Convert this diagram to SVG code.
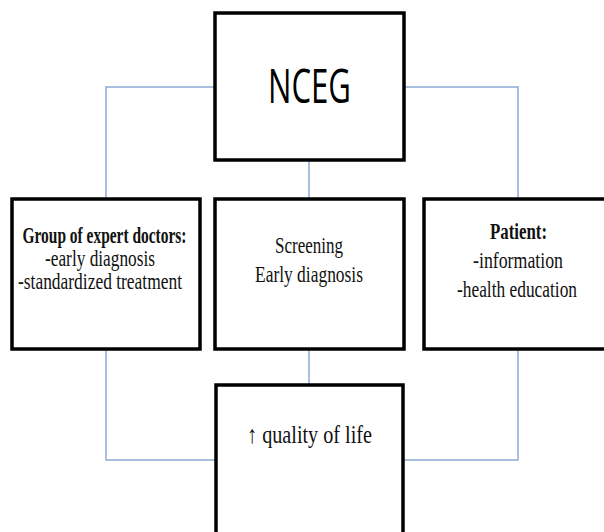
<svg xmlns="http://www.w3.org/2000/svg" width="604" height="532" viewBox="0 0 604 532">
<style>
.box{fill:#ffffff;stroke:#000000;stroke-width:3.5}
.con{fill:none;stroke:#8eaad6;stroke-width:1.5}
.t{font-family:"Liberation Serif","Times New Roman",serif;fill:#111;text-anchor:middle}
.b{font-weight:bold}
.big{font-family:"Open Sans","Noto Sans",sans-serif;fill:#000;text-anchor:middle;font-size:47px}
</style>
<rect width="604" height="532" fill="#ffffff"/>
<g id="connectors">
<polyline class="con" points="215,87 106,87 106,199"/>
<polyline class="con" points="404,87 518,87 518,199"/>
<line class="con" x1="309" y1="160" x2="309" y2="199"/>
<polyline class="con" points="106,349 106,460 216,460"/>
<polyline class="con" points="518,349 518,460 403,460"/>
<line class="con" x1="309" y1="349" x2="309" y2="385"/>
</g>
<g id="nceg">
<rect class="box" x="215" y="13" width="189" height="147"/>
<text class="big" x="309.5" y="103" textLength="83" lengthAdjust="spacingAndGlyphs">NCEG</text>
</g>
<g id="doctors">
<rect class="box" x="12" y="199" width="188" height="150"/>
<text class="t b" x="104.5" y="243" font-size="23" textLength="164" lengthAdjust="spacingAndGlyphs">Group of expert doctors:</text>
<text class="t" x="100" y="266" font-size="23" textLength="110" lengthAdjust="spacingAndGlyphs">-early diagnosis</text>
<text class="t" x="100" y="289" font-size="23" textLength="164" lengthAdjust="spacingAndGlyphs">-standardized treatment</text>
</g>
<g id="screening">
<rect class="box" x="215" y="199" width="189" height="150"/>
<text class="t" x="309" y="253" font-size="24" textLength="68" lengthAdjust="spacingAndGlyphs">Screening</text>
<text class="t" x="309" y="282" font-size="24" textLength="108" lengthAdjust="spacingAndGlyphs">Early diagnosis</text>
</g>
<g id="patient">
<rect class="box" x="424" y="199" width="190" height="150"/>
<text class="t b" x="518.5" y="239" font-size="24" textLength="57" lengthAdjust="spacingAndGlyphs">Patient:</text>
<text class="t" x="518" y="268" font-size="24" textLength="90" lengthAdjust="spacingAndGlyphs">-information</text>
<text class="t" x="517" y="297" font-size="24" textLength="120" lengthAdjust="spacingAndGlyphs">-health education</text>
</g>
<g id="quality">
<rect class="box" x="216" y="385" width="187" height="160"/>
<text class="t" x="309.5" y="443" font-size="25" textLength="125" lengthAdjust="spacingAndGlyphs">↑ quality of life</text>
</g>
</svg>
